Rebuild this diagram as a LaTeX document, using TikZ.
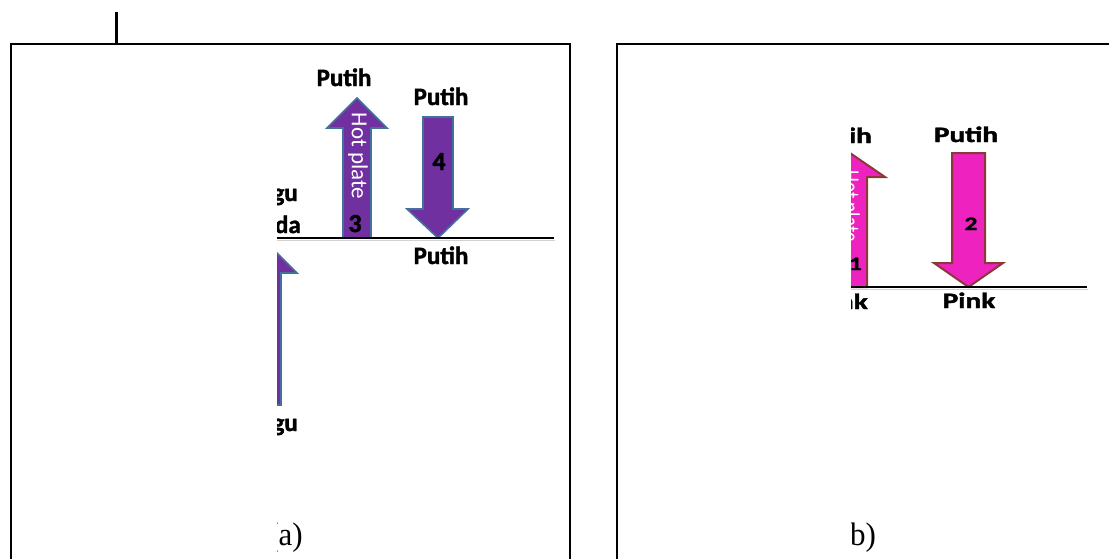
\documentclass[tikz,border=0pt]{standalone}
\usepackage{fontspec}
\setmainfont{Liberation Serif}
\newfontfamily\calfont{Carlito}[BoldFeatures={FakeBold=1.6}]
\definecolor{purp}{RGB}{112,48,160}
\definecolor{purpedge}{RGB}{65,113,156}
\definecolor{mag}{RGB}{238,34,190}
\definecolor{magedge}{RGB}{140,56,58}
\tikzset{
  frameline/.style={line width=2pt, line cap=rect},
  floorline/.style={line width=2.6pt},
  purparrow/.style={fill=purp, draw=purpedge, line width=1.6pt, line join=miter},
  magarrow/.style={fill=mag, draw=magedge, line width=2pt, line join=miter},
  lblA/.style={font=\calfont\bfseries\fontsize{25}{25}\selectfont, inner sep=0pt},
  numA/.style={font=\calfont\bfseries\fontsize{26}{26}\selectfont, inner sep=0pt},
  hotA/.style={font=\calfont\fontsize{23}{23}\selectfont, text=white, inner sep=0pt, rotate=-90},
  lblB/.style={font=\calfont\bfseries\fontsize{22}{22}\selectfont, inner sep=0pt},
  numB/.style={font=\calfont\bfseries\fontsize{19}{19}\selectfont, inner sep=0pt},
  hotB/.style={font=\calfont\fontsize{19}{19}\selectfont, text=white, inner sep=0pt, rotate=-90},
  capt/.style={font=\fontsize{31}{31}\selectfont, inner sep=0pt},
}
\begin{document}
\begin{tikzpicture}[x=1pt,y=-1pt]
\useasboundingbox (0,0) rectangle (1109,558);
% frames
\draw[line width=3pt] (116,12) coordinate (tickTop) -- (116,43) coordinate (tickBot);
\draw[frameline] (10.5,560) coordinate (aBL) -- (10.5,43.5) coordinate (aTL) -- (570,43.5) coordinate (aTR) -- (570,560) coordinate (aBR);
\draw[frameline] (616.5,560) coordinate (bBL) -- (616.5,43.5) coordinate (bTL) -- (1112,43.5) coordinate (bTR);

% ---------- panel (a) ----------
\begin{scope}
\clip (277,0) rectangle (568,558);
% partial arrow lower left
\draw[purparrow] (253,405) -- (253,273) -- (237,273) -- (267,243) -- (297,273) -- (281,273) -- (281,405) -- cycle;
% arrow 3 (up)
\draw[purparrow] (343,238) -- (343,128) -- (327,128) -- (357,98) -- (387,128) -- (371,128) -- (371,238) -- cycle;
% arrow 4 (down)
\draw[purparrow] (423,117) -- (453,117) -- (453,209) -- (468,209) -- (438,238) -- (407,209) -- (423,209) -- cycle;
% floor line
\draw[gray!35, line width=1.5pt] (277,240.5) coordinate (aLs) -- (555,240.5) coordinate (aLe);
\draw[floorline] (277,238) coordinate (aL1) -- (554,238) coordinate (aL2);
% labels
\node[lblA, anchor=base] (pA1) at (344,86) {Putih};
\node[lblA, anchor=base] (pA2) at (441,105) {Putih};
\node[lblA, anchor=base] (pA3) at (441,264) {Putih};
\node[lblA, anchor=base east] (guA) at (298,201) {gu};
\node[lblA, anchor=base east] (daA) at (301,233) {da};
\node[lblA, anchor=base east] (guB) at (298,431) {gu};
\node[numA, anchor=base] (n3) at (355,232) {3};
\node[numA, anchor=base] (n4) at (439,170) {4};
\node[hotA] (hot3) at (358,156) {Hot plate};
\node[capt, anchor=base east] (capA) at (303,545) {\scalebox{1}[1.05]{(a)}};
\end{scope}

% ---------- panel (b) ----------
\begin{scope}
\clip (851,0) rectangle (1108,558);
% arrow 1 (up)
\draw[magarrow] (833.5,287) -- (833.5,177) -- (815,177) -- (850,153) -- (885,177) -- (867,177) -- (867,287) -- cycle;
% arrow 2 (down)
\draw[magarrow] (952,153) -- (985,153) -- (985,263) -- (1003,263) -- (968.5,287) -- (934,263) -- (952,263) -- cycle;
\draw[gray!35, line width=1.5pt] (851,289.5) coordinate (bLs) -- (1088,289.5) coordinate (bLe);
\draw[floorline] (851,287) coordinate (bL1) -- (1087,287) coordinate (bL2);
\node[lblB, anchor=base] (pB1) at (966,142) {\scalebox{1.33}[1]{Putih}};
\node[lblB, anchor=base] (pkB) at (969,308) {\scalebox{1.33}[1]{Pink}};
\node[lblB, anchor=base east] (ihB) at (872,143) {\scalebox{1.33}[1]{ih}};
\node[lblB, anchor=base east] (nkB) at (868,309) {\scalebox{1.33}[1]{nk}};
\node[numB, anchor=base] (n2) at (971,230) {\scalebox{1.33}[1]{2}};
\node[numB, anchor=base east] (n1) at (862,270) {\scalebox{1.33}[1]{1}};
\node[hotB] (hot1) at (849,206) {\scalebox{1}[1.33]{Hot plate}};
\node[capt, anchor=base west] (capB) at (850,545) {\scalebox{1}[1.05]{b)}};
\end{scope}
\end{tikzpicture}
\end{document}
